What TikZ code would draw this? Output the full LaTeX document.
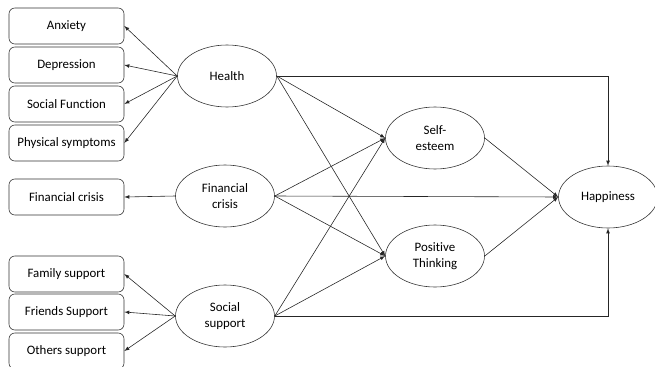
\documentclass[tikz,border=0pt]{standalone}
\usepackage{fontspec}
\setmainfont{Carlito}[Ligatures=NoCommon]
\usetikzlibrary{arrows,shapes.geometric}

\begin{document}
\begin{tikzpicture}[x=0.03cm, y=-0.03cm]
    \tikzset{
      Box/.style    = {draw=black!80, line width=0.5pt, rounded corners=5pt,
                       minimum width=3.45cm, minimum height=1.08cm,
                       font=\fontsize{11}{13}\selectfont},
      Latent/.style = {draw=black!80, line width=0.5pt, ellipse,
                       minimum width=2.97cm, minimum height=1.86cm,
                       inner sep=0pt, align=center,
                       font=\fontsize{11}{13.5}\selectfont},
      EdgeStyle/.style = {-latex, line width=0.5pt, draw=black!85}
    }
    \clip (0,0) rectangle (655,366);

    % Indicators
    \node[Box] (anx)  at (66.5,26)  {Anxiety};
    \node[Box] (dep)  at (66.5,65)  {Depression};
    \node[Box] (soc)  at (66.5,104) {Social Function};
    \node[Box] (phy)  at (66.5,143) {Physical symptoms};
    \node[Box] (fcr)  at (66.5,197) {Financial crisis};
    \node[Box] (fam)  at (66.5,274) {Family support};
    \node[Box] (fri)  at (66.5,312) {Friends Support};
    \node[Box] (oth)  at (66.5,351) {Others support};

    % Latent variables
    \node[Latent] (health) at (227,76)  {Health};
    \node[Latent] (fin)    at (225,196) {Financial\\crisis};
    \node[Latent] (social) at (225,316) {Social\\support};
    \node[Latent] (self)   at (435,138) {Self-\\esteem};
    \node[Latent] (pos)    at (435,256) {Positive\\Thinking};
    \node[Latent] (happy)  at (608,197) {Happiness};

    % Edges
    \draw[EdgeStyle] (health.west) -- (anx.east);
    \draw[EdgeStyle] (health.west) -- (dep.east);
    \draw[EdgeStyle] (health.west) -- (soc.east);
    \draw[EdgeStyle] (health.west) -- (phy.east);
    \draw[EdgeStyle] (fin.west) -- (fcr.east);
    \draw[EdgeStyle] (social.west) -- (fam.east);
    \draw[EdgeStyle] (social.west) -- (fri.east);
    \draw[EdgeStyle] (social.west) -- (oth.east);

    \foreach \from in {health,fin,social}{
      \draw[EdgeStyle] (\from.east) -- (self.west);
      \draw[EdgeStyle] (\from.east) -- (pos.west);
    }
    \draw[EdgeStyle] (fin.east) -- (happy.west);
    \draw[EdgeStyle] (self.east) -- (happy.west);
    \draw[EdgeStyle] (pos.east) -- (happy.west);
    \draw[EdgeStyle] (health.east) -| (happy.north);
    \draw[EdgeStyle] (social.east) -| (happy.south);
\end{tikzpicture}
\end{document}
